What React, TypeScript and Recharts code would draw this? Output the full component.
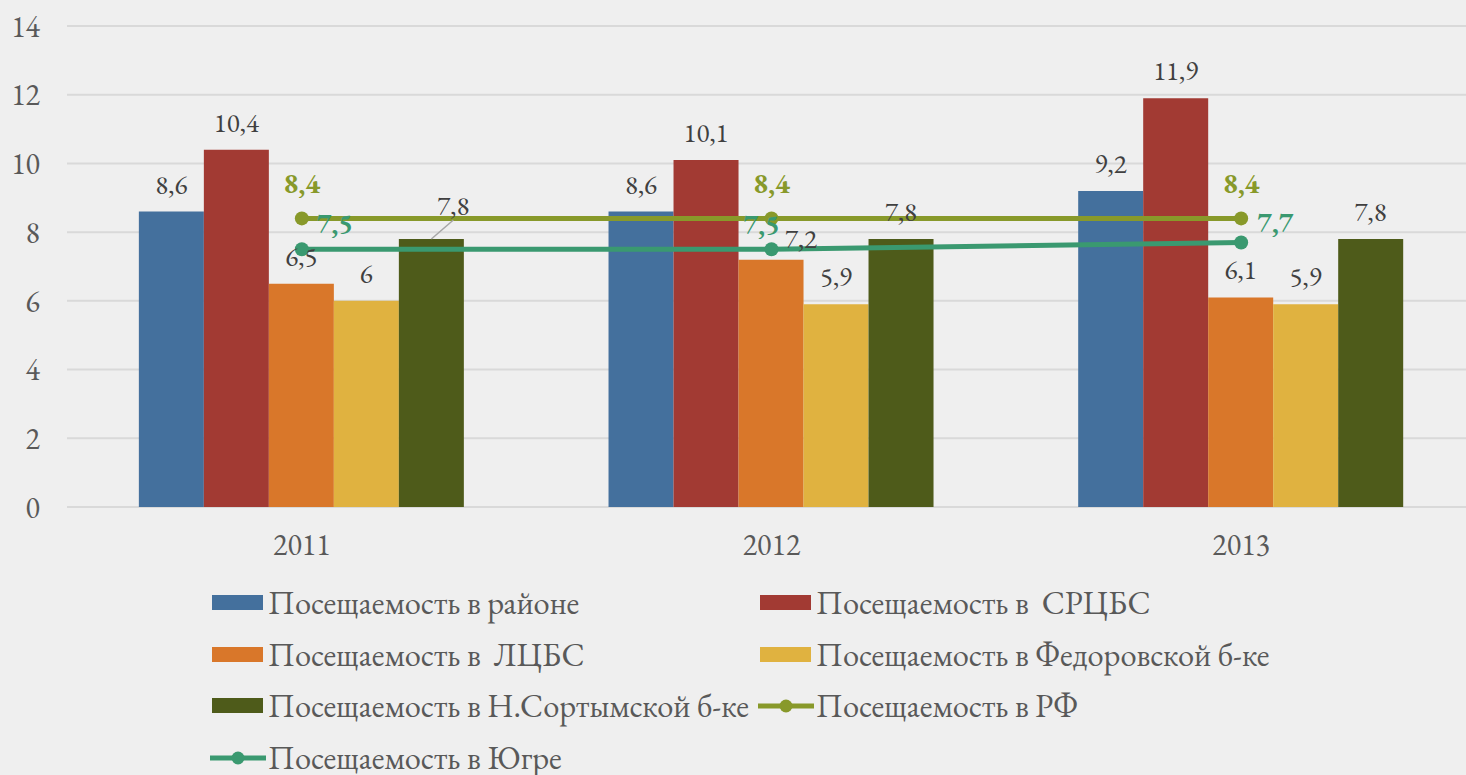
import React from 'react';
import { ComposedChart, Bar, Line, XAxis, YAxis, CartesianGrid, LabelList } from 'recharts';

const categories = ['2011', '2012', '2013'];
const rayon = [8.6, 8.6, 9.2];
const srcbs = [10.4, 10.1, 11.9];
const lcbs = [6.5, 7.2, 6.1];
const fedorov = [6, 5.9, 5.9];
const nsortym = [7.8, 7.8, 7.8];
const rf = [8.4, 8.4, 8.4];
const yugra = [7.5, 7.5, 7.7];
const yTicks = [0, 2, 4, 6, 8, 10, 12, 14];

const data = categories.map((c, i) => ({
  year: c,
  rayon: rayon[i],
  srcbs: srcbs[i],
  lcbs: lcbs[i],
  fedorov: fedorov[i],
  nsortym: nsortym[i],
  rf: rf[i],
  yugra: yugra[i],
}));

const series = [
  { key: 'rayon', name: 'Посещаемость в районе', color: '#44709d', type: 'bar' },
  { key: 'srcbs', name: 'Посещаемость в  СРЦБС', color: '#a23a33', type: 'bar' },
  { key: 'lcbs', name: 'Посещаемость в  ЛЦБС', color: '#d9772a', type: 'bar' },
  { key: 'fedorov', name: 'Посещаемость в Федоровской б-ке', color: '#e0b240', type: 'bar' },
  { key: 'nsortym', name: 'Посещаемость в Н.Сортымской б-ке', color: '#4e5b1a', type: 'bar' },
  { key: 'rf', name: 'Посещаемость в РФ', color: '#88992a', type: 'line' },
  { key: 'yugra', name: 'Посещаемость в Югре', color: '#3a9970', type: 'line' },
];

const FONT = "'EB Garamond', 'Liberation Serif'";
const fmt = (v: number) => String(v).replace('.', ',');

// label nudges (Excel moved some labels to avoid overlaps)
const barNudge: Record<string, { dx: number; dy: number; leader?: boolean }> = {
  'nsortym-0': { dx: 22, dy: -6, leader: true },
  'lcbs-1': { dx: 30, dy: 6 },
};

const makeBarLabel = (key: string) => (props: any) => {
  const { x, y, width, value, index } = props;
  const n = barNudge[`${key}-${index}`] || { dx: 0, dy: 0 };
  const cx = Number(x) + Number(width) / 2;
  const by = Number(y) - 18;
  return (
    <g>
      {n.leader && (
        <line x1={cx} y1={Number(y)} x2={cx + n.dx} y2={by + n.dy + 5} stroke="#a6a6a6" strokeWidth={1.5} />
      )}
      <text x={cx + n.dx} y={by + n.dy} textAnchor="middle" style={{ fontFamily: FONT }} fontSize={27} fill="#404040">
        {fmt(value)}
      </text>
    </g>
  );
};

const rfOffsets = [{ dx: 0, dy: -25 }, { dx: 0, dy: -25 }, { dx: 0, dy: -25 }];
const yugraOffsets = [{ dx: 33, dy: -16 }, { dx: -10, dy: -15 }, { dx: 34, dy: -10 }];

const makeLineLabel = (color: string, offs: { dx: number; dy: number }[]) => (props: any) => {
  const { x, y, value, index } = props;
  const o = offs[index] || { dx: 0, dy: -20 };
  return (
    <text x={Number(x) + o.dx} y={Number(y) + o.dy} textAnchor="middle" style={{ fontFamily: FONT }} fontSize={28} fontWeight="bold" fill={color}>
      {fmt(value)}
    </text>
  );
};

const LegendIcon = ({ color, type }: { color: string; type: string }) =>
  type === 'bar' ? (
    <svg width={56} height={20} style={{ display: 'block' }}>
      <rect x={2} y={2} width={51} height={15} fill={color} />
    </svg>
  ) : (
    <svg width={56} height={20} style={{ display: 'block' }}>
      <line x1={0} y1={10} x2={56} y2={10} stroke={color} strokeWidth={5} />
      <circle cx={28} cy={10} r={6.5} fill={color} />
    </svg>
  );

export default function App() {
  return (
    <div
      style={{
        position: 'absolute',
        left: 0,
        top: 0,
        width: 1466,
        height: 775,
        overflow: 'hidden',
        background: '#efefef',
        fontFamily: FONT,
      }}
    >
      <ComposedChart
        width={1480}
        height={580}
        data={data}
        margin={{ top: 26, right: 4, left: 0, bottom: 20 }}
        barCategoryGap="15.3%"
        barGap={0}
        style={{ fontFamily: FONT }}
      >
        <CartesianGrid vertical={false} stroke="#d9d9d9" strokeWidth={2} />
        <XAxis
          dataKey="year"
          height={53}
          axisLine={false}
          tickLine={false}
          tickSize={0}
          tickMargin={27}
          tick={{ fontSize: 30, fill: '#595959', style: { fontFamily: FONT } }}
        />
        <YAxis
          width={67}
          domain={[0, 14]}
          ticks={yTicks}
          axisLine={false}
          tickLine={false}
          tickSize={0}
          tickMargin={27}
          tick={{ fontSize: 30, fill: '#595959', style: { fontFamily: FONT } }}
        />
        {series
          .filter((s) => s.type === 'bar')
          .map((s) => (
            <Bar key={s.key} dataKey={s.key} name={s.name} fill={s.color} isAnimationActive={false}>
              <LabelList dataKey={s.key} content={makeBarLabel(s.key)} />
            </Bar>
          ))}
        <Line
          dataKey="rf"
          name={series[5].name}
          stroke={series[5].color}
          strokeWidth={5}
          dot={{ r: 7, fill: series[5].color, stroke: 'none' }}
          activeDot={false}
          isAnimationActive={false}
        >
          <LabelList dataKey="rf" content={makeLineLabel(series[5].color, rfOffsets)} />
        </Line>
        <Line
          dataKey="yugra"
          name={series[6].name}
          stroke={series[6].color}
          strokeWidth={5}
          dot={{ r: 7, fill: series[6].color, stroke: 'none' }}
          activeDot={false}
          isAnimationActive={false}
        >
          <LabelList dataKey="yugra" content={makeLineLabel(series[6].color, yugraOffsets)} />
        </Line>
      </ComposedChart>
      {series.map((s, i) => (
        <div
          key={s.key}
          style={{
            position: 'absolute',
            left: i % 2 === 0 ? 210 : 758,
            top: 603 + Math.floor(i / 2) * 51.5 - 15,
            height: 30,
            lineHeight: '30px',
            display: 'flex',
            alignItems: 'center',
            whiteSpace: 'pre',
            fontFamily: FONT,
            fontSize: 32.5,
            color: '#595959',
          }}
        >
          <LegendIcon color={s.color} type={s.type} />
          <span style={{ marginLeft: 2, lineHeight: '30px' }}>{s.name}</span>
        </div>
      ))}
    </div>
  );
}
